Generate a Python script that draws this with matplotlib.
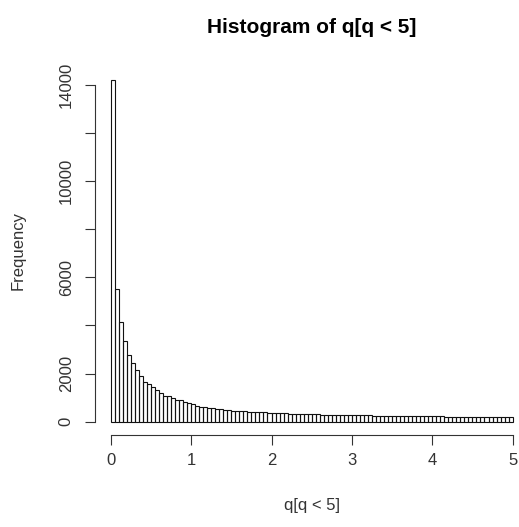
import numpy as np
import matplotlib
matplotlib.use("Agg")
import matplotlib.pyplot as plt

# Histogram of q[q < 5]: 100 bins of width 0.05 on [0, 5]
bin_edges = np.linspace(0, 5, 101)
counts = np.array([
    14200, 5520, 4150, 3350, 2780, 2430, 2150, 1880, 1670, 1570,
    1450, 1320, 1180, 1070, 1060, 975, 905, 895, 820, 765,
    725, 665, 625, 600, 560, 555, 515, 510, 490, 485,
    450, 445, 440, 425, 420, 405, 400, 390, 385, 372,
    368, 360, 352, 350, 341, 335, 333, 325, 320, 316,
    310, 306, 300, 298, 293, 290, 286, 284, 278, 276,
    272, 268, 266, 262, 260, 256, 254, 251, 248, 245,
    243, 241, 238, 236, 234, 231, 229, 227, 226, 223,
    221, 220, 218, 216, 214, 213, 211, 209, 208, 206,
    205, 204, 202, 201, 200, 199, 198, 197, 196, 195,
])
x_ticks = [0, 1, 2, 3, 4, 5]
y_ticks = [0, 2000, 4000, 6000, 8000, 10000, 12000, 14000]
y_tick_labels = ["0", "2000", "", "6000", "", "10000", "", "14000"]

plt.rcParams['font.family'] = ['Liberation Sans', 'DejaVu Sans']

W, H = 519, 527
fig = plt.figure(figsize=(W / 100, H / 100), dpi=100)
ax = fig.add_axes([94.7 / W, 1 - 435.4 / H, (528.7 - 94.7) / W, (435.4 - 66.2) / H])

ax.bar(bin_edges[:-1], counts, width=np.diff(bin_edges), align='edge',
       fill=False, edgecolor='#111111', linewidth=0.8)

ymax = counts.max()
ax.set_xlim(-0.2, 5.2)
ax.set_ylim(-0.04 * ymax, 1.04 * ymax)

for s in ['top', 'right']:
    ax.spines[s].set_visible(False)
ax.spines['bottom'].set_bounds(0, 5)
ax.spines['left'].set_bounds(0, 14000)
for s in ['bottom', 'left']:
    ax.spines[s].set_linewidth(0.8)
    ax.spines[s].set_color('#333333')

ax.set_xticks(x_ticks)
ax.set_xticklabels([str(v) for v in x_ticks])
ax.set_yticks(y_ticks)
ax.set_yticklabels(y_tick_labels, rotation=90, va='center')
ax.tick_params(axis='both', length=7, width=0.8, color='#333333',
               labelsize=12, labelcolor='#333333')
ax.tick_params(axis='x', pad=5.5)
ax.tick_params(axis='y', pad=8)

ax.set_title("Histogram of q[q < 5]", fontsize=15, fontweight='bold', pad=24)
ax.set_xlabel("q[q < 5]", fontsize=12, color='#333333', labelpad=22)
ax.set_ylabel("Frequency", fontsize=12, color='#333333', labelpad=24)

fig.savefig("out.png", dpi=100)
